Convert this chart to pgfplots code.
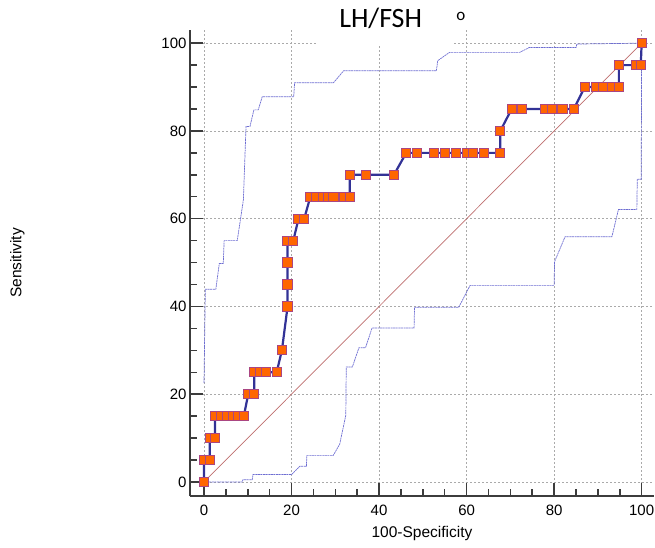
\documentclass[border=0pt]{standalone}
\usepackage{pgfplots}
\pgfplotsset{compat=1.18}
\usepackage{fontspec}
\setmainfont{Liberation Sans}
\newfontfamily\titlefont{Carlito}
\definecolor{rocblue}{RGB}{50,50,150}
\definecolor{markfill}{RGB}{255,102,0}
\definecolor{markdraw}{RGB}{170,70,130}
\definecolor{diagred}{RGB}{190,110,110}
\definecolor{bandblue}{RGB}{110,110,210}
\definecolor{gridgray}{RGB}{170,170,170}
\definecolor{axisgray}{RGB}{60,60,60}
\begin{document}
\begin{tikzpicture}
\useasboundingbox (0,0) rectangle (655pt,547pt);
\begin{axis}[
  at={(190pt,51pt)}, anchor=south west,
  scale only axis, width=463.9pt, height=466pt,
  xmin=-3.2, xmax=102.8, ymin=-3.2, ymax=103,
  axis x line*=bottom, axis y line*=left,
  xtick={0,20,40,60,80,100}, ytick={0,20,40,60,80,100},
  minor tick num=3,
  tick align=inside,
  major tick length=13pt, minor tick length=7pt,
  grid=major,
  major grid style={dash pattern=on 2pt off 2pt, gridgray, line width=0.6pt},
  axis line style={line width=2pt, axisgray},
  every tick/.style={line width=1.5pt, axisgray},
  tick label style={font=\fontsize{15}{18}\selectfont},
  /pgf/number format/assume math mode=true,
  xticklabel style={yshift=-5pt},
  xlabel={100-Specificity}, ylabel={Sensitivity},
  every axis x label/.style={at={(axis description cs:0.5,-0.0794)}, anchor=center, font=\fontsize{15.5}{18}\selectfont},
  every axis y label/.style={at={(axis description cs:-0.372,0.5)}, rotate=90, anchor=center, font=\fontsize{15.5}{18}\selectfont},
  title={LH/FSH},
  every axis title/.style={at={(axis description cs:0.411,1.026)}, anchor=center, font=\titlefont\fontsize{28}{30}\selectfont},
  clip=false,
]
\fill[white] (axis cs:25.8,99.4) rectangle (axis cs:57.2,103);
\fill[white] (axis cs:79,100.4) rectangle (axis cs:81,103);
\node[font=\titlefont\fontsize{17}{18}\selectfont, anchor=center] at (axis description cs:0.584,1.0285) {o};
% diagonal
\addplot[diagred, line width=0.7pt] coordinates {(0,0) (100,100)};
% upper confidence band
\addplot[bandblue, line width=0.7pt, dash pattern=on 2pt off 0.6pt] coordinates {
(0,22.5) (0.3,43.9) (2.7,43.9) (3.5,49.8) (4.4,49.8) (4.6,55) (7.6,55) (9.0,64.3)
(9.6,81) (10.5,81) (11.4,84.8) (12.4,84.8) (13.3,87.8) (20.5,87.8) (20.7,91)
(29.6,91) (31.9,93.7) (53.1,93.7) (53.4,96) (56.1,97.9) (72.1,97.9) (74.3,99.0)
(85.0,99.0) (85.2,99.8) (100,100)};
% lower confidence band
\addplot[bandblue, line width=0.7pt, dash pattern=on 2pt off 0.6pt] coordinates {
(0,0) (8.7,0) (8.9,0.5) (11.0,0.5) (11.2,1.7) (20.0,1.7) (21.9,3.6) (23.4,3.6)
(23.5,6.0) (29.5,6.0) (31.0,8.6) (32.4,15.2) (32.5,26.2) (33.9,26.2) (35.4,30.6)
(36.9,30.6) (38.4,35.1) (48.0,35.1) (48.1,39.8) (58.2,39.8) (60.8,44.8) (80.0,44.8)
(80.1,50.2) (82.5,55.9) (93.2,55.9) (94.7,62.1) (98.9,62.1) (99.0,69.0) (99.9,69.0)
(100,100)};
% ROC curve
\addplot[rocblue, line width=2.2pt, mark=square*, mark size=4.6pt,
  mark options={fill=markfill, draw=markdraw, line width=1pt, solid}] coordinates {
(0,0)
(0,5) (1.3,5)
(1.3,10) (2.5,10)
(2.5,15) (3.9,15) (5.3,15) (6.6,15) (7.9,15) (9.1,15)
(10.1,20) (11.5,20)
(11.5,25) (12.8,25) (14.2,25) (16.6,25)
(17.8,30)
(19.1,40) (19.1,45) (19.1,50)
(19.1,55) (20.4,55)
(21.6,60) (22.9,60)
(24.3,65) (25.7,65) (27.1,65) (28.4,65) (29.6,65) (32.0,65) (33.3,65)
(33.3,70) (37.1,70) (43.4,70)
(46.2,75) (48.7,75) (52.5,75) (55.0,75) (57.5,75) (60.1,75) (61.4,75) (63.9,75) (67.7,75)
(67.7,80)
(70.3,85) (72.7,85) (78.0,85) (79.5,85) (81.9,85) (84.5,85)
(87.0,90) (89.5,90) (91.2,90) (93.3,90) (94.8,90)
(94.8,95) (98.7,95) (99.8,95)
(100,100)};
\end{axis}
\end{tikzpicture}
\end{document}
